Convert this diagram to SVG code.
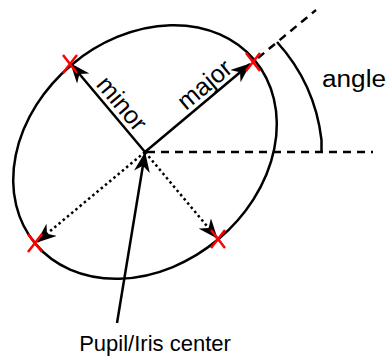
<svg xmlns="http://www.w3.org/2000/svg" width="389" height="356" viewBox="0 0 389 356">
<style>
.ln{fill:none;stroke:#000;stroke-width:2.5}
.dash{fill:none;stroke:#000;stroke-width:2.5;stroke-dasharray:8 6}
.dot{fill:none;stroke:#000;stroke-width:2.5;stroke-dasharray:2.5 3}
.x{stroke:#ff0000;stroke-width:2.5;fill:none}
.t{font-family:"Liberation Sans",Arial,Helvetica,sans-serif;font-size:22px;fill:#000}
.lb{font-family:"Liberation Sans",Arial,Helvetica,sans-serif;font-size:25px;fill:#000}
</style>
<defs>
<marker id="ah" viewBox="0 0 20 16" refX="19" refY="8" markerWidth="20" markerHeight="16" markerUnits="userSpaceOnUse" orient="auto">
<path d="M0,0 L20,8 L0,16 L6,8 Z" fill="#000"/>
</marker>
</defs>
<g id="ellipse">
<ellipse cx="145" cy="152" rx="143" ry="114" transform="rotate(-40 145 152)" fill="none" stroke="#000" stroke-width="2.5"/>
</g>
<g id="connectors">
<line class="dash" x1="147" y1="152" x2="373" y2="152"/>
<line class="dash" x1="258" y1="58" x2="316" y2="10"/>
<path class="ln" d="M277,42 A176,176 0 0 1 321.5,140 L321.5,152"/>
<line class="ln" x1="145" y1="152" x2="250" y2="64" marker-end="url(#ah)"/>
<line class="ln" x1="145" y1="152" x2="71" y2="64" marker-end="url(#ah)"/>
<line class="dot" x1="145" y1="152" x2="37" y2="242" marker-end="url(#ah)"/>
<line class="dot" x1="145" y1="152" x2="217" y2="238" marker-end="url(#ah)"/>
<line class="ln" x1="117" y1="323" x2="145" y2="153" marker-end="url(#ah)"/>
</g>
<g id="marks">
<path class="x" d="M63,55 L77,73 M77,55 L63,73"/>
<path class="x" d="M246,53 L260,71 M260,53 L246,71"/>
<path class="x" d="M28,234 L42,252 M42,234 L28,252"/>
<path class="x" d="M211,230 L225,248 M225,230 L211,248"/>
</g>
<g id="label-major">
<text class="lb" transform="translate(145 152) rotate(-40)" x="89" y="-5" text-anchor="middle">major</text>
</g>
<g id="label-minor">
<text class="lb" transform="translate(145 152) rotate(50)" x="-52" y="-5" text-anchor="middle">minor</text>
</g>
<g id="label-angle">
<text class="t" x="322" y="87" font-size="23" style="font-size:23px" textLength="64" lengthAdjust="spacingAndGlyphs">angle</text>
</g>
<g id="label-center">
<text class="t" x="155" y="351" text-anchor="middle">Pupil/Iris center</text>
</g>
</svg>
